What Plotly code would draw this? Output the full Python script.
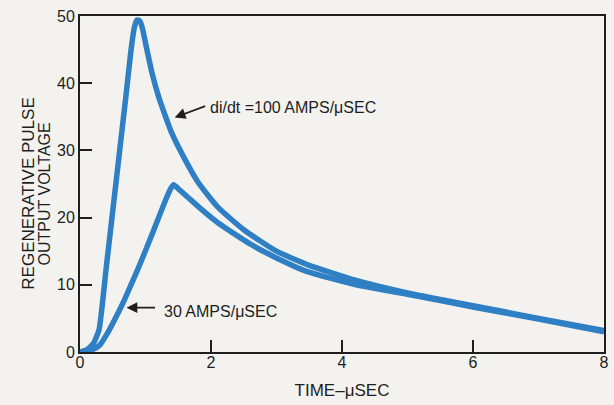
import plotly.graph_objects as go

# time in microseconds, voltage
t_100 = [0, 0.1, 0.2, 0.29, 0.4, 0.5, 0.6, 0.7, 0.78, 0.83, 0.87, 0.91, 0.95,
         1.0, 1.1, 1.2, 1.3, 1.4, 1.6, 1.8, 2.1, 2.5, 3.0, 3.5, 4.2, 5.0, 6.0, 7.0, 8.0]
v_100 = [0, 0.3, 1.2, 3.3, 12.5, 21.0, 29.5, 38.0, 45.0, 48.3, 49.4, 49.3, 48.3,
         46.0, 41.5, 38.0, 35.2, 32.6, 28.7, 25.3, 21.6, 18.2, 15.0, 12.9, 10.7, 8.8, 6.9, 5.0, 3.2]

t_30 = [0, 0.1, 0.2, 0.3, 0.42, 0.55, 0.68, 0.9, 1.1, 1.31, 1.39, 1.43, 1.5,
        1.65, 1.81, 2.11, 2.61, 3.0, 3.46, 4.22, 5.0, 6.0, 7.0, 8.0]
v_30 = [0, 0.1, 0.4, 1.0, 2.8, 5.2, 7.8, 12.7, 17.5, 22.7, 24.4, 24.9, 24.3,
        23.0, 21.6, 19.2, 16.0, 14.0, 12.0, 10.0, 8.6, 6.7, 4.9, 3.0]

x_ticks = [0, 2, 4, 6, 8]
y_ticks = [0, 10, 20, 30, 40, 50]

BLUE = "#2e7fc4"
INK = "#1e1e1e"
PAPER = "#f3f2ee"
FONT = "Liberation Sans, Arial, sans-serif"

fig = go.Figure()
for t, v in [(t_100, v_100), (t_30, v_30)]:
    fig.add_trace(go.Scatter(x=t, y=v, mode="lines",
                             line=dict(color=BLUE, width=5.5, shape="spline", smoothing=0.5),
                             showlegend=False, hoverinfo="skip"))

axis_common = dict(showline=True, linecolor=INK, linewidth=1.8, mirror=True,
                   ticks="inside", ticklen=12, tickwidth=1.8, tickcolor=INK,
                   showgrid=False, zeroline=False,
                   tickfont=dict(family=FONT, size=16, color=INK))

fig.update_xaxes(range=[0, 8], tickvals=x_ticks, ticklabelstandoff=-5, **axis_common,
                 title=dict(text="TIME–μSEC", font=dict(family=FONT, size=17, color=INK), standoff=14))
fig.update_yaxes(range=[0, 50], tickvals=y_ticks, ticklabelstandoff=0, **axis_common)

# two-line y title, drawn as separate rotated labels
fig.add_annotation(text="REGENERATIVE PULSE", xref="paper", yref="paper", x=-0.1, y=0.47,
                   xanchor="center", yanchor="middle",
                   textangle=-90, showarrow=False, font=dict(family=FONT, size=17, color=INK))
fig.add_annotation(text="OUTPUT VOLTAGE", xref="paper", yref="paper", x=-0.068, y=0.47,
                   xanchor="center", yanchor="middle",
                   textangle=-90, showarrow=False, font=dict(family=FONT, size=16, color=INK))

# curve callouts
fig.add_annotation(x=1.446, y=34.9, ax=32, ay=-12, text="", showarrow=True,
                   arrowhead=2, arrowsize=1.2, arrowwidth=1.8, arrowcolor=INK)
fig.add_annotation(x=1.96, y=36.4, text="di/dt =100 AMPS/μSEC", showarrow=False,
                   xanchor="left", font=dict(family=FONT, size=16, color=INK))
fig.add_annotation(x=0.71, y=6.6, ax=30, ay=0, text="", showarrow=True,
                   arrowhead=2, arrowsize=1.2, arrowwidth=1.8, arrowcolor=INK)
fig.add_annotation(x=1.25, y=6.1, text="30 AMPS/μSEC", showarrow=False,
                   xanchor="left", font=dict(family=FONT, size=16, color=INK))

fig.update_layout(width=614, height=405, margin=dict(l=80, r=5, t=16, b=53),
                  paper_bgcolor=PAPER, plot_bgcolor=PAPER)

# drop the browser's default body margin so the figure sits at the page corner
fig.write_html("out.html", config={"displayModeBar": False},
               post_script=f"document.body.style.margin='0';document.body.style.background='{PAPER}';")
